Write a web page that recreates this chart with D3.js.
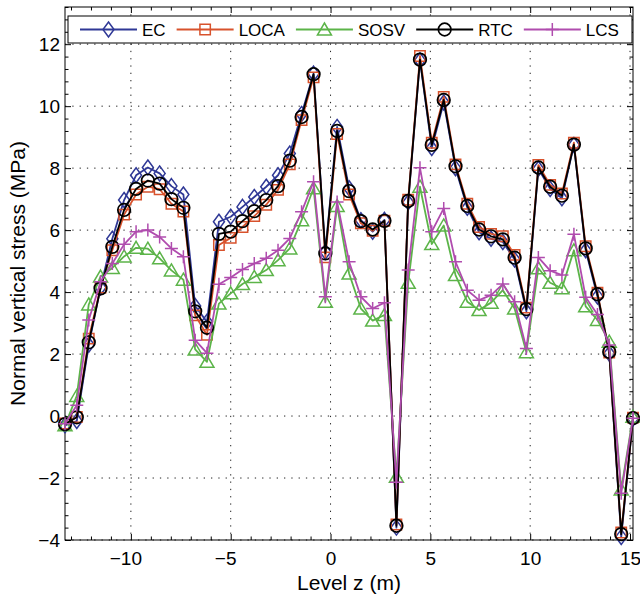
<!DOCTYPE html>
<html>
<head>
<meta charset="utf-8">
<script src="https://cdn.jsdelivr.net/npm/d3@7"></script>
<style>
  body { margin: 0; background: #fff; }
  text { font-family: 'Liberation Sans', Arial, sans-serif; fill: #000; }
</style>
</head>
<body>
<div id="chart"></div>
<script>
// level z (m) of every sample point
const levels = [
  -13.30, -12.71, -12.11, -11.52, -10.93, -10.34, -9.74, -9.15, -8.56, -7.97,
  -7.37, -6.78, -6.19, -5.59, -5.00, -4.41, -3.82, -3.22, -2.63, -2.04,
  -1.45, -0.85, -0.26, 0.33, 0.93, 1.52, 2.11, 2.70, 3.30, 3.89,
  4.48, 5.07, 5.67, 6.26, 6.85, 7.44, 8.04, 8.63, 9.22, 9.81,
  10.41, 11.00, 11.59, 12.19, 12.78, 13.37, 13.96, 14.56, 15.15
];

// normal vertical stress (MPa) per method
const ec = [
  -0.30, -0.16, 2.30, 4.15, 5.72, 6.97, 7.77, 8.02, 7.83, 7.42,
  7.15, 3.55, 3.04, 6.27, 6.43, 6.75, 7.07, 7.40, 7.77, 8.47,
  9.75, 11.05, 5.30, 9.33, 7.35, 6.32, 5.95, 6.33, -3.60, 6.90,
  11.48, 8.65, 10.12, 8.00, 6.72, 5.93, 5.72, 5.62, 5.05, 3.38,
  7.98, 7.33, 7.03, 8.75, 5.35, 3.86, 2.02, -3.90, -0.08
];
const loca = [
  -0.24, -0.03, 2.50, 4.15, 5.35, 6.50, 7.15, 7.40, 7.32, 6.85,
  6.60, 3.25, 2.62, 5.52, 5.75, 6.10, 6.45, 6.82, 7.30, 8.12,
  9.55, 10.93, 5.12, 9.10, 7.15, 6.22, 5.98, 6.30, -3.50, 6.98,
  11.62, 8.82, 10.30, 8.12, 6.85, 6.10, 5.88, 5.80, 5.20, 3.50,
  8.10, 7.46, 7.18, 8.82, 5.48, 3.98, 2.05, -3.76, -0.05
];
const sosv = [
  -0.30, 0.65, 3.60, 4.50, 4.78, 5.15, 5.43, 5.40, 5.09, 4.70,
  4.40, 2.15, 1.75, 3.63, 3.96, 4.26, 4.49, 4.71, 5.03, 5.41,
  6.32, 7.35, 3.69, 6.78, 4.60, 3.47, 3.08, 3.26, -1.96, 4.30,
  7.40, 5.55, 6.15, 4.55, 3.69, 3.42, 3.66, 4.06, 3.47, 2.06,
  4.77, 4.30, 4.12, 5.35, 3.54, 3.10, 2.40, -2.37, -0.02
];
const rtc = [
  -0.26, -0.04, 2.38, 4.12, 5.46, 6.65, 7.33, 7.60, 7.50, 7.00,
  6.72, 3.38, 2.85, 5.88, 5.95, 6.29, 6.61, 6.97, 7.42, 8.24,
  9.65, 11.03, 5.25, 9.20, 7.26, 6.29, 6.02, 6.30, -3.54, 6.94,
  11.50, 8.75, 10.20, 8.06, 6.78, 6.02, 5.80, 5.70, 5.11, 3.45,
  8.02, 7.40, 7.11, 8.76, 5.41, 3.93, 2.07, -3.81, -0.07
];
const lcs = [
  -0.25, 0.35, 3.10, 4.33, 4.92, 5.54, 5.95, 6.00, 5.78, 5.41,
  5.14, 2.45, 2.03, 4.25, 4.47, 4.73, 4.92, 5.09, 5.35, 5.73,
  6.59, 7.56, 3.85, 6.91, 4.98, 3.85, 3.47, 3.66, -2.14, 4.71,
  8.01, 5.95, 6.70, 4.98, 4.06, 3.74, 3.90, 4.26, 3.69, 2.18,
  5.12, 4.69, 4.55, 5.87, 3.83, 3.28, 2.29, -2.49, -0.07
];

const seriesNames = ['EC', 'LOCA', 'SOSV', 'RTC', 'LCS'];
const xTicks = [-10, -5, 0, 5, 10, 15];
const yTicks = [-4, -2, 0, 2, 4, 6, 8, 10, 12];

const margin = { top: 7, right: 7, bottom: 57, left: 65 };
const width = 640 - margin.left - margin.right;
const height = 597 - margin.top - margin.bottom;

const styles = {
  EC: { color: '#2f3896', marker: 'diamond' },
  LOCA: { color: '#d8522c', marker: 'square' },
  SOSV: { color: '#5cb449', marker: 'triangle' },
  RTC: { color: '#000000', marker: 'circle' },
  LCS: { color: '#b04cae', marker: 'plus' },
};

const seriesData = { EC: ec, LOCA: loca, SOSV: sosv, RTC: rtc, LCS: lcs };

const markerPaths = {
  diamond: 'M0,-7.5L5.5,0L0,7.5L-5.5,0Z',
  square: 'M-5.2,-5.2H5.2V5.2H-5.2Z',
  triangle: 'M0,-6.5L7,5.5L-7,5.5Z',
  plus: 'M-6.5,0H6.5M0,-6.5V6.5',
};

const svg = d3
  .select('#chart')
  .append('svg')
  .attr('width', width + margin.left + margin.right)
  .attr('height', height + margin.top + margin.bottom)
  .append('g')
  .attr('transform', 'translate(' + margin.left + ',' + margin.top + ')');

const x = d3.scaleLinear().domain([-13.3, 15.15]).range([0, width]);
const y = d3.scaleLinear().domain([-4, 13.2]).range([height, 0]);

// dotted grid at the major ticks
svg
  .append('g')
  .selectAll('line')
  .data(xTicks)
  .join('line')
  .attr('x1', (d) => x(d))
  .attr('x2', (d) => x(d))
  .attr('y1', 0)
  .attr('y2', height)
  .attr('stroke', '#222')
  .attr('stroke-width', 1)
  .attr('stroke-dasharray', '1.3,6');

svg
  .append('g')
  .selectAll('line')
  .data(yTicks)
  .join('line')
  .attr('x1', 0)
  .attr('x2', width)
  .attr('y1', (d) => y(d))
  .attr('y2', (d) => y(d))
  .attr('stroke', '#222')
  .attr('stroke-width', 1)
  .attr('stroke-dasharray', '1.3,6');

// axes, ticks pointing inward on all four sides
const xMinor = d3.range(-13, 16).filter((d) => !xTicks.includes(d));
const yMinor = d3
  .range(0, 44)
  .map((i) => +(-4 + i * 0.4).toFixed(1))
  .filter((d) => !yTicks.includes(d) && d <= 13.2);

function tickAxis(axis, values, size) {
  return axis.tickValues(values).tickSize(-size).tickFormat('');
}

const xAxis = svg
  .append('g')
  .attr('class', 'x axis')
  .attr('transform', 'translate(0,' + height + ')')
  .call(
    d3.axisBottom(x).tickValues(xTicks).tickSize(-6).tickPadding(12)
  );
xAxis
  .selectAll('text')
  .style('font-size', '19px')
  .attr('dx', (d) => (d < 0 ? '-0.29em' : 0));

svg
  .append('g')
  .attr('transform', 'translate(0,' + height + ')')
  .call(tickAxis(d3.axisBottom(x), xMinor, 3.5));
svg.append('g').call(tickAxis(d3.axisTop(x), xTicks, 6));
svg.append('g').call(tickAxis(d3.axisTop(x), xMinor, 3.5));

const yAxis = svg
  .append('g')
  .attr('class', 'y axis')
  .call(d3.axisLeft(y).tickValues(yTicks).tickSize(-6).tickPadding(5));
yAxis.selectAll('text').style('font-size', '19px');

svg.append('g').call(tickAxis(d3.axisLeft(y), yMinor, 3.5));
svg
  .append('g')
  .attr('transform', 'translate(' + width + ',0)')
  .call(tickAxis(d3.axisRight(y), yTicks, 6));
svg
  .append('g')
  .attr('transform', 'translate(' + width + ',0)')
  .call(tickAxis(d3.axisRight(y), yMinor, 3.5));

svg.selectAll('.domain').remove();
svg.selectAll('.tick line').attr('stroke', '#000');

// axes box
svg
  .append('rect')
  .attr('width', width)
  .attr('height', height)
  .attr('fill', 'none')
  .attr('stroke', '#000')
  .attr('stroke-width', 1);

// X-axis label
svg
  .append('text')
  .attr('x', width / 2)
  .attr('y', height + 50)
  .attr('text-anchor', 'middle')
  .style('font-size', '21px')
  .text('Level z (m)');

// text label for the y axis
svg
  .append('text')
  .attr('transform', 'translate(' + (25 - margin.left) + ',' + height / 2 + ') rotate(-90)')
  .attr('text-anchor', 'middle')
  .style('font-size', '21px')
  .text('Normal vertical stress (MPa)');

function drawMarker(sel, kind, color) {
  if (kind === 'circle') {
    sel
      .append('circle')
      .attr('r', 6.3)
      .attr('fill', 'none')
      .attr('stroke', color)
      .attr('stroke-width', 1.7);
  } else {
    sel
      .append('path')
      .attr('d', markerPaths[kind])
      .attr('fill', 'none')
      .attr('stroke', color)
      .attr('stroke-width', 1.5);
  }
}

const line = d3
  .line()
  .x((d) => x(d.z))
  .y((d) => y(d.v));

for (const name of seriesNames) {
  const st = styles[name];
  const pts = levels.map((z, i) => ({ z, v: seriesData[name][i] }));

  svg
    .append('path')
    .datum(pts)
    .attr('d', line)
    .attr('fill', 'none')
    .attr('stroke', st.color)
    .attr('stroke-width', 1.8)
    .attr('stroke-linejoin', 'round');

  svg
    .append('g')
    .selectAll('g')
    .data(pts)
    .join('g')
    .attr('transform', (d) => `translate(${x(d.z)},${y(d.v)})`)
    .each(function () {
      drawMarker(d3.select(this), st.marker, st.color);
    });
}

// Set up the legend
const legend = svg
  .append('g')
  .attr('transform', 'translate(' + (68 - margin.left) + ',' + (16 - margin.top) + ')');

legend
  .append('rect')
  .attr('width', 564)
  .attr('height', 27)
  .attr('fill', '#fff')
  .attr('stroke', '#000')
  .attr('stroke-width', 1);

let cursor = 12;
for (const name of seriesNames) {
  const st = styles[name];
  const item = legend.append('g').attr('transform', 'translate(' + cursor + ',13.5)');
  item
    .append('line')
    .attr('x1', 0)
    .attr('x2', 57)
    .attr('stroke', st.color)
    .attr('stroke-width', 1.8);
  drawMarker(item.append('g').attr('transform', 'translate(28.5,0)'), st.marker, st.color);
  const label = item
    .append('text')
    .attr('x', 62)
    .attr('y', 6.2)
    .style('font-size', '17px')
    .text(name);
  cursor += 62 + label.node().getComputedTextLength() + 11;
}
</script>
</body>
</html>
